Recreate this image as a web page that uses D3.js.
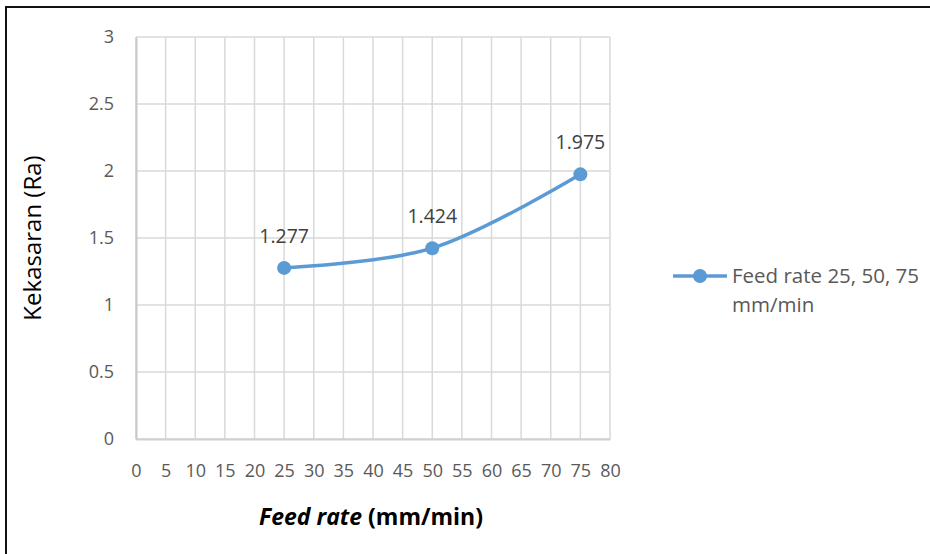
<!DOCTYPE html>
<html>
<head>
<meta charset="utf-8">
<script src="https://cdn.jsdelivr.net/npm/d3@7"></script>
<style>
  html, body { margin: 0; padding: 0; background: #fff; }
  svg { display: block; }
  text { font-family: "Open Sans", "Noto Sans", sans-serif; }
</style>
</head>
<body>
<svg id="chart" width="930" height="554"></svg>
<script>
// Surface roughness against feed rate
const feedRates = [25, 50, 75];
const roughness = [1.277, 1.424, 1.975];
const xTicks = [0, 5, 10, 15, 20, 25, 30, 35, 40, 45, 50, 55, 60, 65, 70, 75, 80];
const yTicks = [0, 0.5, 1, 1.5, 2, 2.5, 3];
const seriesName = ["Feed rate 25, 50, 75", "mm/min"];

const svg = d3.select("#chart");
const W = 930, H = 554;
const plot = { left: 136, right: 610, top: 37, bottom: 439 };

// outer frame (runs past the right and bottom edges)
svg.append("rect")
  .attr("x", 6).attr("y", 7).attr("width", W + 10).attr("height", H + 10)
  .attr("fill", "none").attr("stroke", "#111").attr("stroke-width", 2);

const x = d3.scaleLinear().domain([0, 80]).range([plot.left, plot.right]);
const y = d3.scaleLinear().domain([0, 3]).range([plot.bottom, plot.top]);

// gridlines
const grid = svg.append("g").attr("stroke", "#d9d9d9").attr("stroke-width", 1.5);
xTicks.forEach(t => grid.append("line")
  .attr("x1", x(t)).attr("x2", x(t)).attr("y1", plot.top).attr("y2", plot.bottom));
yTicks.forEach(t => grid.append("line")
  .attr("x1", plot.left).attr("x2", plot.right).attr("y1", y(t)).attr("y2", y(t)));

// axes
const xAxis = svg.append("g").attr("transform", `translate(0,${plot.bottom})`)
  .call(d3.axisBottom(x).tickValues(xTicks).tickSize(0).tickPadding(25));
const yAxis = svg.append("g").attr("transform", `translate(${plot.left},0)`)
  .call(d3.axisLeft(y).tickValues(yTicks).tickSize(0).tickPadding(22)
    .tickFormat(d => String(d)));
[xAxis, yAxis].forEach(a => {
  a.selectAll("text").attr("fill", "#595959").style("font-size", "18px")
    .style("font-family", '"Open Sans", sans-serif');
});
yAxis.select(".domain").attr("stroke", "#c8c8c8").attr("stroke-width", 2);
xAxis.select(".domain").attr("stroke", "#d0d0d0").attr("stroke-width", 2);

// axis titles
svg.append("text")
  .attr("transform", `translate(41,${(plot.top + plot.bottom) / 2}) rotate(-90)`)
  .attr("text-anchor", "middle").attr("fill", "#000")
  .style("font-size", "24px").text("Kekasaran (Ra)");

const xt = svg.append("text")
  .attr("x", 371).attr("y", 525)
  .attr("text-anchor", "middle").attr("fill", "#000")
  .style("font-size", "23px").style("font-weight", "bold");
xt.append("tspan").style("font-style", "italic").text("Feed rate");
xt.append("tspan").text(" (mm/min)");

// series
const pts = feedRates.map((f, i) => [f, roughness[i]]);
const line = d3.line().x(d => x(d[0])).y(d => y(d[1])).curve(d3.curveCatmullRom.alpha(0.5));
const blue = "#5b9bd5";
svg.append("path").datum(pts).attr("d", line)
  .attr("fill", "none").attr("stroke", blue).attr("stroke-width", 3.5)
  .attr("stroke-linecap", "round");
svg.selectAll("circle.pt").data(pts).join("circle").attr("class", "pt")
  .attr("cx", d => x(d[0])).attr("cy", d => y(d[1])).attr("r", 7).attr("fill", blue);

// value labels
svg.selectAll("text.val").data(pts).join("text").attr("class", "val")
  .attr("x", d => x(d[0])).attr("y", d => y(d[1]) - 25)
  .attr("text-anchor", "middle").attr("fill", "#404040")
  .style("font-size", "19.5px").text(d => d3.format(".3f")(d[1]));

// legend
const lg = svg.append("g").attr("transform", "translate(673,276)");
lg.append("line").attr("x1", 0).attr("x2", 54).attr("y1", 0).attr("y2", 0)
  .attr("stroke", blue).attr("stroke-width", 3.5);
lg.append("circle").attr("cx", 27).attr("cy", 0).attr("r", 7).attr("fill", blue);
lg.selectAll("text").data(seriesName).join("text")
  .attr("x", 59).attr("y", (d, i) => 7 + i * 29)
  .attr("fill", "#595959").style("font-size", "20.5px").text(d => d);
</script>
</body>
</html>
